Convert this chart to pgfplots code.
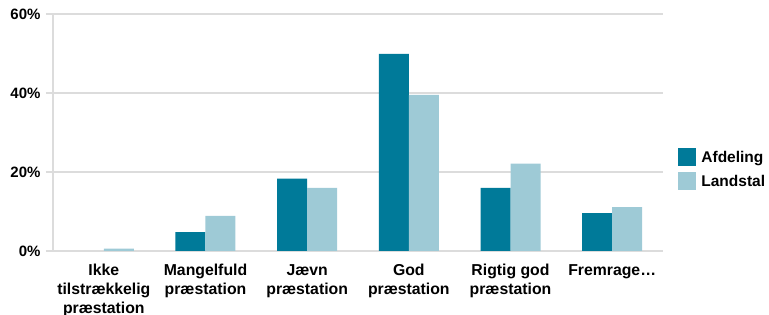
\documentclass[border=0pt]{standalone}
\usepackage{pgfplots}
\pgfplotsset{compat=1.18}
\usepackage{fontspec}
\setmainfont{Liberation Sans}
\definecolor{dark}{HTML}{007A99}
\definecolor{light}{HTML}{9ECAD6}
\definecolor{gridc}{HTML}{DCDCDC}
\begin{document}
\begin{tikzpicture}[x=1pt,y=1pt]
\useasboundingbox (-53,-64) rectangle (716,251);
\begin{axis}[
  at={(0,0)}, anchor=south west,
  scale only axis, width=610pt, height=237pt,
  ybar=0pt, bar width=30pt,
  ymin=0, ymax=60, xmin=-0.5, xmax=5.5,
  ytick={0,20,40,60},
  yticklabels={0\%,20\%,40\%,60\%},
  xtick={0,...,5},
  xticklabels={Ikke\\tilstrækkelig\\præstation, Mangelfuld\\præstation, Jævn\\præstation, God\\præstation, Rigtig god\\præstation, Fremrage\ldots},
  xticklabel style={align=center, font=\fontsize{15.8}{19}\selectfont\bfseries, yshift=-3pt},
  yticklabel style={font=\fontsize{15}{18}\selectfont\bfseries, xshift=-2pt},
  x tick style={draw=none},
  y tick style={gridc, line width=1.5pt},
  major tick length=7pt, tick align=outside,
  ymajorgrids, grid style={gridc, line width=1.5pt},
  axis x line*=bottom, axis y line*=left,
  axis line style={gridc, line width=1.5pt},
  legend style={at={(1.02,0.247)}, anchor=south west, draw=none, fill=none,
    font=\fontsize{15.5}{18}\selectfont\bfseries, row sep=6pt,
    nodes={inner xsep=5pt}},
  legend image code/.code={\fill[#1] (0pt,-9pt) rectangle (18pt,9pt);},
  legend cell align=left,
  clip=false,
]
\addplot[fill=dark, draw=none] coordinates {(1,4.8) (2,18.3) (3,49.9) (4,16.0) (5,9.6)};
\addplot[fill=light, draw=none] coordinates {(0,0.6) (1,8.9) (2,16.0) (3,39.5) (4,22.1) (5,11.1)};
\legend{Afdeling, Landstal}
\end{axis}
\end{tikzpicture}
\end{document}
